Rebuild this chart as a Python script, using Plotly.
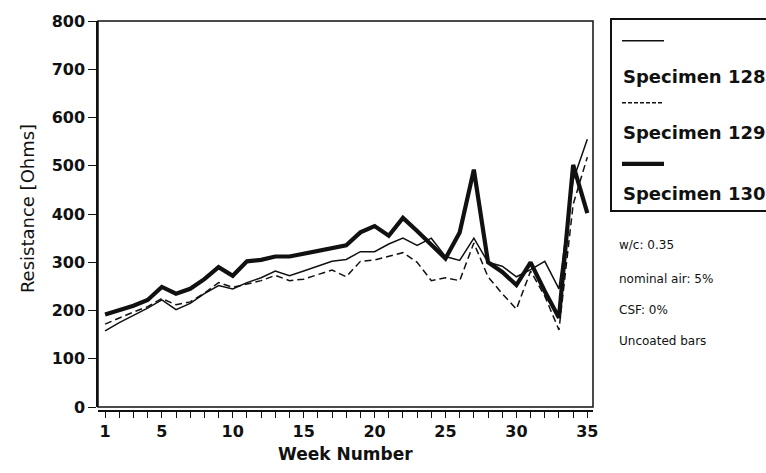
import plotly.graph_objects as go

# Weekly resistance readings for three uncoated-bar specimens
weeks = list(range(1, 36))

specimen_128 = [158, 175, 190, 205, 222, 202, 215, 235, 252, 245,
                258, 268, 282, 272, 282, 292, 302, 306, 322, 322,
                338, 350, 335, 350, 312, 304, 350, 300, 292, 270,
                285, 302, 245, 470, 555]

specimen_129 = [172, 185, 197, 208, 225, 212, 218, 236, 258, 248,
                255, 262, 273, 262, 265, 275, 284, 270, 302, 305,
                312, 320, 300, 262, 268, 262, 340, 270, 235, 203,
                282, 230, 160, 420, 518]

specimen_130 = [192, 200, 210, 222, 249, 235, 245, 265, 290, 272,
                302, 305, 312, 312, 318, 322, 330, 335, 362, 375,
                355, 392, 365, 335, 308, 362, 492, 300, 280, 253,
                300, 240, 185, 502, 402]

series_names = ["Specimen 128", "Specimen 129", "Specimen 130"]
notes = ["w/c: 0.35", "nominal air: 5%", "CSF: 0%", "Uncoated bars"]

x_labels = {1: "1", 5: "5", 10: "10", 15: "15", 20: "20",
            25: "25", 30: "30", 35: "35"}
y_ticks = [0, 100, 200, 300, 400, 500, 600, 700, 800]

INK = "#111111"
BOLD = "DejaVu Sans"

# plot-area pixel geometry (used to place the side panels)
L, R, T, B = 98, 593, 15, 411
W, H = R - L, B - T


def px(xpix):
    return (xpix - L) / W


def py(ypix):
    return (B - ypix) / H


styles = [
    dict(width=1.5, dash="solid"),
    dict(width=1.5, dash="7px,4px"),
    dict(width=4.2, dash="solid"),
]

fig = go.Figure()
for name, vals, st in zip(series_names,
                          [specimen_128, specimen_129, specimen_130],
                          styles):
    fig.add_trace(go.Scatter(
        x=weeks, y=vals, mode="lines", name=name,
        line=dict(color=INK, width=st["width"], dash=st["dash"]),
        showlegend=False, hoverinfo="x+y+name",
    ))

fig.update_layout(
    width=766, height=473,
    margin=dict(l=L, r=766 - R, t=T, b=473 - B, pad=0),
    paper_bgcolor="white", plot_bgcolor="white",
    font=dict(family=BOLD, color=INK),
    xaxis=dict(
        range=[0.5, 35.4],
        tickmode="array",
        tickvals=weeks,
        ticktext=[x_labels.get(w, "") for w in weeks],
        ticks="outside", ticklen=6, tickwidth=1.3, tickcolor=INK,
        showline=True, linecolor=INK, linewidth=1.5,
        showgrid=False, zeroline=False,
        anchor="free", position=0,
        tickfont=dict(family=BOLD, size=16, color=INK, weight="bold"),
    ),
    yaxis=dict(
        domain=[0.01, 1],
        range=[0, 800],
        tickmode="array",
        tickvals=y_ticks,
        ticks="outside", ticklen=8, tickwidth=1.3, tickcolor=INK,
        showline=True, linecolor=INK, linewidth=1.5,
        showgrid=False, zeroline=False,
        tickfont=dict(family=BOLD, size=16, color=INK, weight="bold"),
    ),
)

# frame around the data area
fig.add_shape(type="rect", xref="x domain", yref="y domain",
              x0=0, x1=1, y0=0, y1=1,
              line=dict(color=INK, width=1.5))

# axis titles
fig.add_annotation(text="Week Number", xref="paper", yref="paper",
                   x=px(345), y=py(455), showarrow=False,
                   xanchor="center", yanchor="middle",
                   font=dict(family=BOLD, size=17, color=INK, weight="bold"))
fig.add_annotation(text="Resistance [Ohms]", xref="paper", yref="paper",
                   x=px(27), y=py(206), showarrow=False, textangle=-90,
                   xanchor="center", yanchor="middle",
                   font=dict(family=BOLD, size=18, color=INK))

# legend panel
fig.add_shape(type="rect", xref="paper", yref="paper",
              x0=px(611), x1=px(790), y0=py(208), y1=py(13),
              line=dict(color=INK, width=2))
sample_y = [35, 98, 160]
label_y = [71, 128, 190]
for name, st, sy, ly in zip(series_names, styles, sample_y, label_y):
    fig.add_shape(type="line", xref="paper", yref="paper",
                  x0=px(622), x1=px(664), y0=py(sy), y1=py(sy),
                  line=dict(color=INK, width=st["width"],
                            dash="4px,2px" if st["dash"] != "solid" else "solid"))
    fig.add_annotation(text=name, xref="paper", yref="paper",
                       x=px(621), y=py(ly), showarrow=False,
                       xanchor="left", yanchor="middle",
                       font=dict(family=BOLD, size=18, color=INK, weight="bold"))

# mix-design notes
note_y = [242, 277, 308, 340]
for txt, ny in zip(notes, note_y):
    fig.add_annotation(text=txt, xref="paper", yref="paper",
                       x=px(617), y=py(ny), showarrow=False,
                       xanchor="left", yanchor="middle",
                       font=dict(family=BOLD, size=12, color=INK))

fig.write_html("out.html")
